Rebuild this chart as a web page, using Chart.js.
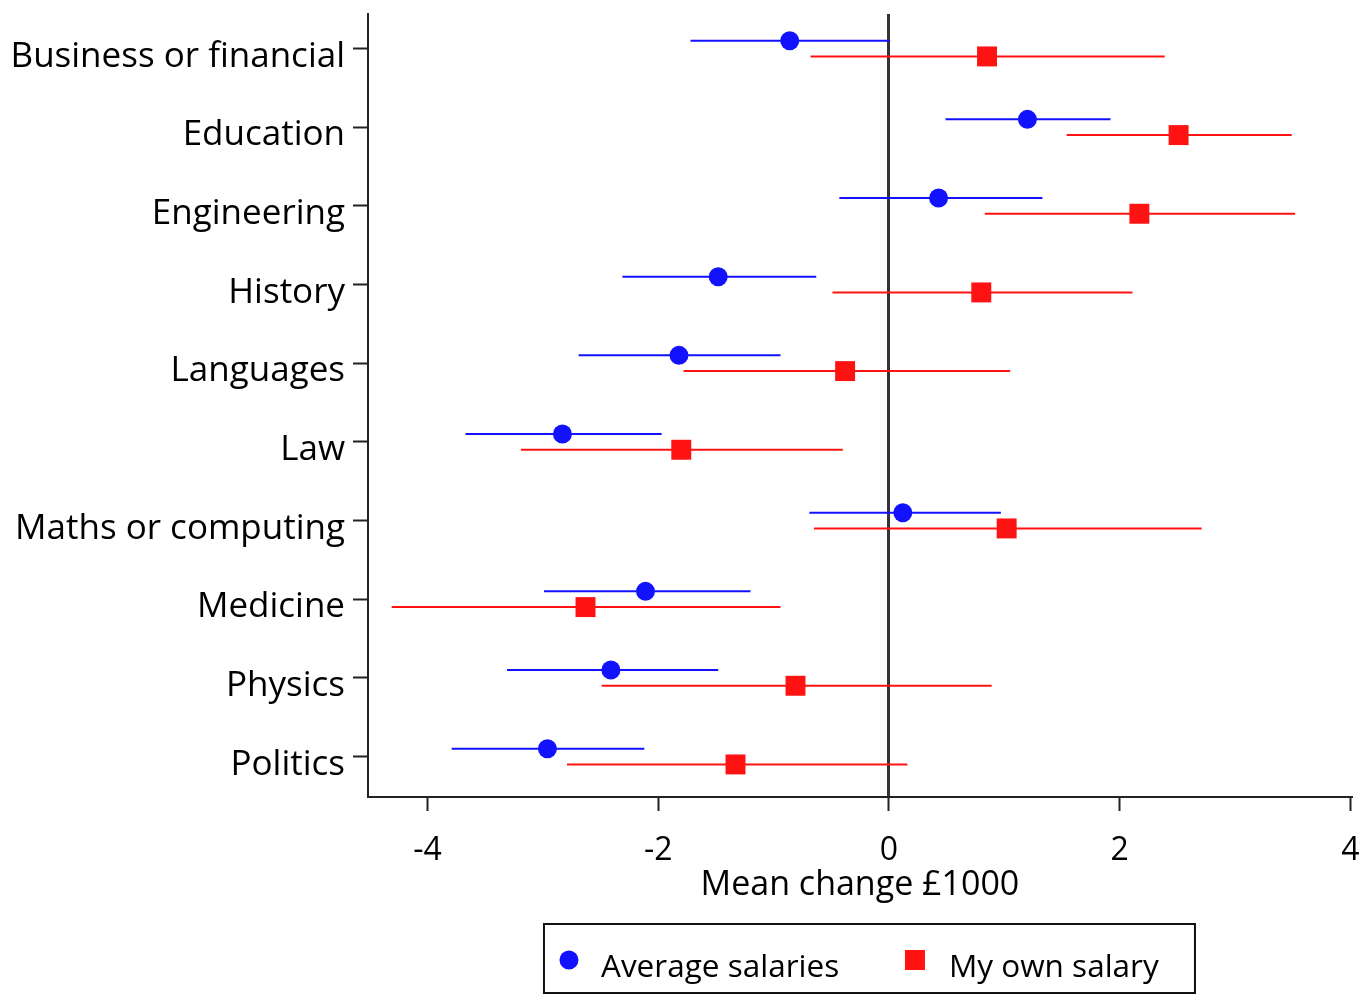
<!DOCTYPE html>
<html>
<head>
<meta charset="utf-8">
<script src="https://cdn.jsdelivr.net/npm/chart.js@4.4.1/dist/chart.umd.min.js"></script>
<style>
  html, body { margin: 0; padding: 0; background: #fff; }
  #wrap { width: 1366px; height: 995px; position: relative; }
</style>
</head>
<body>
<div id="wrap"><canvas id="c" width="1366" height="995"></canvas></div>
<script>
const categories = ["Business or financial", "Education", "Engineering", "History", "Languages",
  "Law", "Maths or computing", "Medicine", "Physics", "Politics"];
const seriesNames = ["Average salaries", "My own salary"];

const avgMean = [-0.86, 1.20, 0.43, -1.48, -1.82, -2.83, 0.12, -2.11, -2.41, -2.96];
const avgLow  = [-1.72, 0.49, -0.43, -2.31, -2.69, -3.67, -0.69, -2.99, -3.31, -3.79];
const avgHigh = [0.01, 1.92, 1.33, -0.63, -0.94, -1.97, 0.97, -1.20, -1.48, -2.12];

const ownMean = [0.85, 2.51, 2.17, 0.80, -0.38, -1.80, 1.02, -2.63, -0.81, -1.33];
const ownLow  = [-0.68, 1.54, 0.83, -0.49, -1.78, -3.19, -0.65, -4.31, -2.49, -2.79];
const ownHigh = [2.39, 3.49, 3.52, 2.11, 1.05, -0.40, 2.71, -0.94, 0.89, 0.16];

const xTicks = [-4, -2, 0, 2, 4];

const BLUE = "rgb(18,18,255)";
const RED = "rgb(255,18,18)";
const FONT = "'Open Sans'";
const OFF = 0.1;

const legendPlugin = {
  id: "boxLegend",
  afterDraw(chart) {
    const ctx = chart.ctx;
    const xs = chart.scales.x;
    const boxW = 651, boxH = 69;
    const cx = xs.getPixelForValue(0) - 19.5;
    const bx = cx - boxW / 2, by = 924;
    ctx.save();
    ctx.strokeStyle = "#111";
    ctx.lineWidth = 2;
    ctx.strokeRect(bx, by, boxW, boxH);
    ctx.font = "31.5px " + FONT;
    ctx.textBaseline = "alphabetic";
    const my = by + 36;
    ctx.fillStyle = BLUE;
    ctx.beginPath();
    ctx.arc(bx + 25, my, 9.5, 0, Math.PI * 2);
    ctx.fill();
    ctx.fillStyle = "#000";
    ctx.fillText(seriesNames[0], bx + 57, by + 53);
    ctx.fillStyle = RED;
    ctx.fillRect(bx + 371 - 10, my - 10, 20, 20);
    ctx.fillStyle = "#000";
    ctx.fillText(seriesNames[1], bx + 405, by + 53);
    ctx.restore();
  }
};

new Chart(document.getElementById("c"), {
  type: "scatter",
  data: {
    datasets: [
      {
        type: "bar", indexAxis: "y", label: seriesNames[0] + " CI",
        data: categories.map((c, i) => ({ y: i - OFF, x: [avgLow[i], avgHigh[i]] })),
        backgroundColor: BLUE, maxBarThickness: 2, grouped: false, order: 2, borderWidth: 0
      },
      {
        type: "bar", indexAxis: "y", label: seriesNames[1] + " CI",
        data: categories.map((c, i) => ({ y: i + OFF, x: [ownLow[i], ownHigh[i]] })),
        backgroundColor: RED, maxBarThickness: 2, grouped: false, order: 2, borderWidth: 0
      },
      {
        label: seriesNames[0],
        data: categories.map((c, i) => ({ x: avgMean[i], y: i - OFF })),
        pointStyle: "circle", pointRadius: 9.5, backgroundColor: BLUE, borderWidth: 0, order: 1
      },
      {
        label: seriesNames[1],
        data: categories.map((c, i) => ({ x: ownMean[i], y: i + OFF })),
        pointStyle: "rect", pointRadius: 14.1, backgroundColor: RED, borderWidth: 0, order: 1
      }
    ]
  },
  options: {
    responsive: false,
    animation: false,
    events: [],
    layout: { padding: { left: 0, right: 0, top: 3, bottom: 89 } },
    plugins: { legend: { display: false }, tooltip: { enabled: false } },
    scales: {
      x: {
        type: "linear", min: -4.515, max: 4.012, z: 1, offset: false,
        afterBuildTicks: s => { s.ticks = xTicks.map(v => ({ value: v })); },
        afterFit: s => { s.height = 109; s.paddingLeft = 0; s.paddingRight = 0; },
        grid: {
          offset: false,
          color: c => (c.tick && c.tick.value === 0 ? "#333" : "rgba(0,0,0,0)"),
          lineWidth: 3, tickColor: "#222", tickWidth: 2, tickLength: 14, drawTicks: true
        },
        border: { display: true, color: "#222", width: 2 },
        ticks: { color: "#000", font: { family: FONT, size: 32 }, padding: 21, maxRotation: 0,
          callback: v => String(v) },
        title: { display: true, text: "Mean change £1000", color: "#000",
          font: { family: FONT, size: 34 }, padding: { top: 0, bottom: 0 } }
      },
      y: {
        type: "linear", min: -0.438, max: 9.514, reverse: true, offset: false,
        afterBuildTicks: s => { s.ticks = categories.map((c, i) => ({ value: i })); },
        afterFit: s => { s.width = 368; s.paddingTop = 0; s.paddingBottom = 0; },
        grid: { offset: false, drawOnChartArea: false, tickColor: "#222", tickWidth: 2, tickLength: 15 },
        border: { display: true, color: "#222", width: 2 },
        ticks: { color: "#000", font: { family: FONT, size: 35 }, padding: 8, labelOffset: 8,
          callback: v => categories[v] }
      }
    }
  },
  plugins: [legendPlugin]
});
</script>
</body>
</html>
